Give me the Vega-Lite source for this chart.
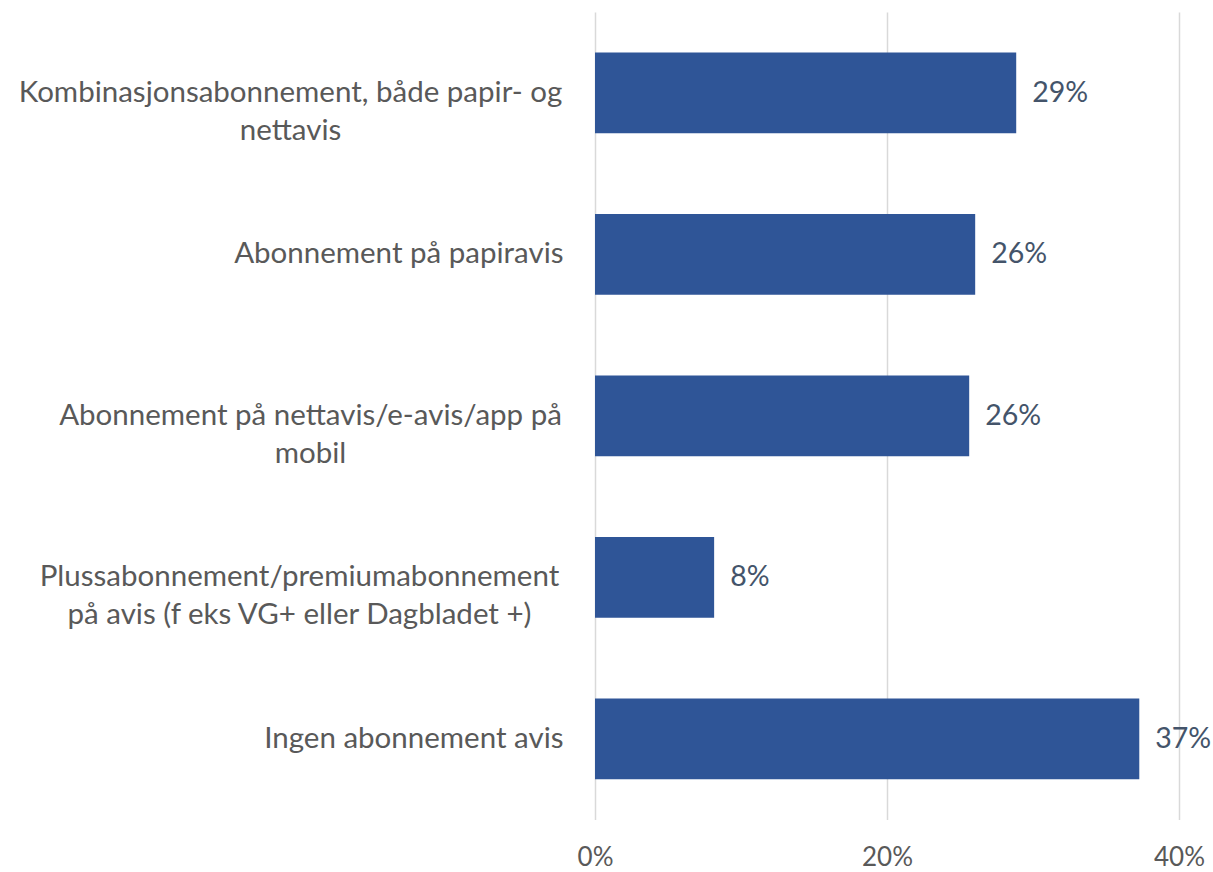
{
  "$schema": "https://vega.github.io/schema/vega-lite/v6.json",
  "autosize": {"type": "none"},
  "width": 584,
  "height": 807.5,
  "padding": {"left": 595, "top": 12, "right": 34, "bottom": 52.5},
  "background": "#ffffff",
  "config": {"view": {"stroke": null}, "font": "Lato"},
  "data": {
    "values": [
      {"cat": "Kombinasjonsabonnement, både papir- og|nettavis", "value": 0.2885},
      {"cat": "Abonnement på papiravis", "value": 0.2604},
      {"cat": "Abonnement på nettavis/e-avis/app på|mobil", "value": 0.2563},
      {"cat": "Plussabonnement/premiumabonnement|på avis (f eks VG+ eller Dagbladet +)", "value": 0.0816},
      {"cat": "Ingen abonnement avis", "value": 0.3728}
    ]
  },
  "encoding": {
    "y": {
      "field": "cat",
      "type": "nominal",
      "sort": null,
      "scale": {"paddingInner": 0.5, "paddingOuter": 0.25},
      "axis": {
        "title": null,
        "domain": false,
        "ticks": false,
        "grid": false,
        "labelFont": "Lato",
        "labelFontSize": 29.5,
        "labelColor": "#595959",
        "labelLineHeight": 38,
        "labelLimit": 700,
        "labelExpr": "split(datum.value, '|')",
        "labelAlign": {"condition": {"test": "indexof(datum.value, '|') >= 0", "value": "center"}, "value": "right"},
        "labelPadding": {
          "condition": [
            {"test": "indexof(datum.value, 'Kombinasjon') == 0", "value": 305},
            {"test": "indexof(datum.value, 'Abonnement på nettavis') == 0", "value": 285},
            {"test": "indexof(datum.value, 'Plussabonnement') == 0", "value": 296}
          ],
          "value": 32
        }
      }
    },
    "x": {
      "field": "value",
      "type": "quantitative",
      "scale": {"domain": [0, 0.4], "nice": false},
      "axis": {
        "title": null,
        "format": ".0%",
        "values": [0, 0.2, 0.4],
        "domain": false,
        "ticks": false,
        "grid": true,
        "gridColor": "#D9D9D9",
        "gridWidth": 1.5,
        "labelFont": "Lato",
        "labelFontSize": 26,
        "labelColor": "#595959",
        "labelPadding": 25,
        "labelFlush": false
      }
    }
  },
  "layer": [
    {"mark": {"type": "bar", "color": "#2F5597"}},
    {
      "mark": {"type": "text", "align": "left", "baseline": "middle", "dx": 16, "fontSize": 28.5, "font": "Lato", "color": "#44546A"},
      "encoding": {"text": {"field": "value", "type": "quantitative", "format": ".0%"}}
    }
  ]
}
